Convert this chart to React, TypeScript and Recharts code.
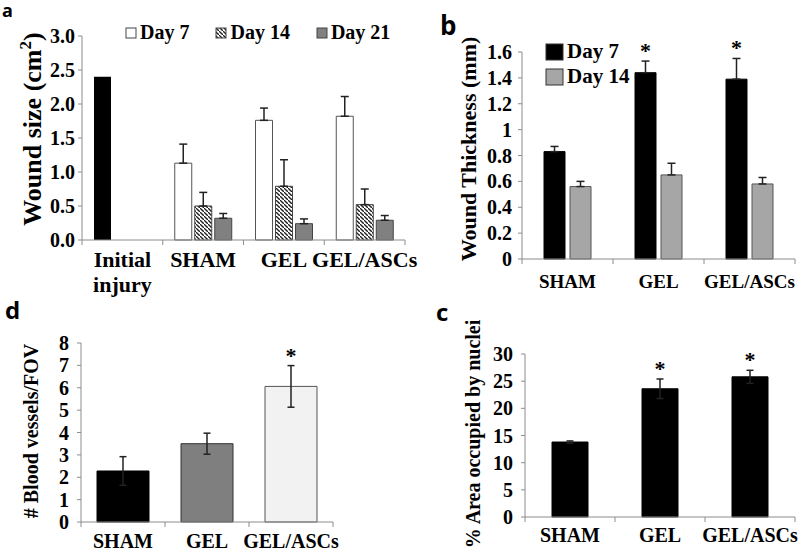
import { BarChart, Bar, XAxis, YAxis, ErrorBar, Cell, Legend, LabelList } from "recharts";

const SERIF = '"Liberation Serif", "Times New Roman", serif';
const SANS = '"Open Sans", Arial, sans-serif';
const AXIS = "#8c8c8c";
const ERR = "#222";

// a: wound size (cm2)
const sizeGroups = ["Initial\ninjury", "SHAM", "GEL", "GEL/ASCs"];
const sizeSeries = ["Day 7", "Day 14", "Day 21"];
const initialSize = [2.4, null, null, null];
const day7Size = [null, 1.13, 1.76, 1.82];
const day7SizeErr = [null, 0.28, 0.18, 0.29];
const day14Size = [null, 0.5, 0.79, 0.52];
const day14SizeErr = [null, 0.2, 0.39, 0.23];
const day21Size = [null, 0.32, 0.24, 0.29];
const day21SizeErr = [null, 0.07, 0.07, 0.07];
const sizeTicks = [0, 0.5, 1, 1.5, 2, 2.5, 3];

// b: wound thickness (mm)
const groups = ["SHAM", "GEL", "GEL/ASCs"];
const thickSeries = ["Day 7", "Day 14"];
const thickDay7 = [0.83, 1.44, 1.39];
const thickDay7Err = [0.04, 0.09, 0.16];
const thickDay14 = [0.56, 0.65, 0.58];
const thickDay14Err = [0.04, 0.09, 0.05];
const thickSig = [false, true, true];
const thickTicks = [0, 0.2, 0.4, 0.6, 0.8, 1, 1.2, 1.4, 1.6];

// d: blood vessels per FOV
const vessels = [2.28, 3.5, 6.06];
const vesselsErr = [0.64, 0.47, 0.93];
const vesselsSig = [false, false, true];
const vesselFill = ["#000000", "#7f7f7f", "#f2f2f2"];
const vesselStroke = ["#000000", "#333333", "#555555"];
const vesselTicks = [0, 1, 2, 3, 4, 5, 6, 7, 8];

// c: % area occupied by nuclei
const nuclei = [13.8, 23.6, 25.8];
const nucleiErr = [0.2, 1.8, 1.2];
const nucleiSig = [false, true, true];
const nucleiTicks = [0, 5, 10, 15, 20, 25, 30];

const sizeData = sizeGroups.map((g, i) => ({
  group: g,
  initial: initialSize[i],
  day7: day7Size[i],
  day7Err: day7SizeErr[i] == null ? null : [0, day7SizeErr[i]],
  day14: day14Size[i],
  day14Err: day14SizeErr[i] == null ? null : [0, day14SizeErr[i]],
  day21: day21Size[i],
  day21Err: day21SizeErr[i] == null ? null : [0, day21SizeErr[i]],
}));

const thickData = groups.map((g, i) => ({
  group: g,
  day7: thickDay7[i],
  day7Err: [0, thickDay7Err[i]],
  day14: thickDay14[i],
  day14Err: [0, thickDay14Err[i]],
}));

const vesselData = groups.map((g, i) => ({ group: g, value: vessels[i], err: vesselsErr[i] }));
const nucleiData = groups.map((g, i) => ({ group: g, value: nuclei[i], err: nucleiErr[i] }));

const tickStyle = (size: number) => ({
  fill: "#000",
  fontSize: size,
  fontWeight: 700,
  fontFamily: SERIF,
});

function GroupTick(props: any) {
  const { x, payload, index, band, axisY, baseY, fontSize, lineGap, count } = props;
  const lines = String(payload.value).split("\n");
  return (
    <g>
      <line x1={x - band / 2} x2={x - band / 2} y1={axisY} y2={axisY + 5} stroke={AXIS} />
      {index === count - 1 && (
        <line x1={x + band / 2} x2={x + band / 2} y1={axisY} y2={axisY + 5} stroke={AXIS} />
      )}
      {lines.map((l, i) => (
        <text
          key={i}
          x={x}
          y={baseY + i * lineGap}
          textAnchor="middle"
          fontFamily={SERIF}
          fontWeight={700}
          fontSize={fontSize}
          fill="#000"
        >
          {l}
        </text>
      ))}
    </g>
  );
}

// rotated axis title
function title(text: any, x: number, cy: number, size: number) {
  return () => (
    <text
      x={x}
      y={cy}
      transform={`rotate(-90, ${x}, ${cy})`}
      textAnchor="middle"
      fontFamily={SERIF}
      fontWeight={700}
      fontSize={size}
      fill="#000"
    >
      {text}
    </text>
  );
}

// asterisk above the error bar of significant groups
function star(sig: boolean[], errs: number[], pxPerUnit: number) {
  return (props: any) => {
    const vb = props.viewBox || {};
    const x = props.x ?? vb.x;
    const y = props.y ?? vb.y;
    const w = props.width ?? vb.width;
    const i = props.index;
    if (!sig[i]) return null;
    return (
      <text
        x={x + w / 2}
        y={y - errs[i] * pxPerUnit - 3}
        textAnchor="middle"
        fontFamily={SERIF}
        fontWeight={700}
        fontSize={22}
        fill="#000"
      >
        *
      </text>
    );
  };
}

const byOrder = (order: string[]) => (items: any[]) =>
  items
    .filter((p: any) => order.includes(p.value))
    .sort((a: any, b: any) => order.indexOf(a.value) - order.indexOf(b.value));

function LegendA(props: any) {
  const items = byOrder(sizeSeries)(props.payload || []);
  return (
    <div style={{ display: "flex", alignItems: "center", fontFamily: SERIF, fontWeight: 700, fontSize: 20 }}>
      {items.map((p: any) => (
        <div key={p.value} style={{ display: "flex", alignItems: "center", marginRight: 26 }}>
          <svg width={12} height={12} style={{ marginRight: 3 }}>
            <rect x={1} y={1} width={10} height={10} fill={p.payload?.fill ?? p.color} stroke="#444" />
          </svg>
          <span>{p.value}</span>
        </div>
      ))}
    </div>
  );
}

function LegendB(props: any) {
  const items = byOrder(thickSeries)(props.payload || []);
  return (
    <div style={{ fontFamily: SERIF, fontWeight: 700, fontSize: 21, lineHeight: "25px" }}>
      {items.map((p: any) => (
        <div key={p.value} style={{ display: "flex", alignItems: "center" }}>
          <svg width={19} height={18} style={{ marginRight: 3 }}>
            <rect x={1} y={1} width={17} height={16} fill={p.payload?.fill ?? p.color} stroke="#333" />
          </svg>
          <span>{p.value}</span>
        </div>
      ))}
    </div>
  );
}

function PanelLetter({ x, y, text, size }: any) {
  return (
    <div
      style={{
        position: "absolute",
        left: x,
        top: y,
        fontFamily: SANS,
        fontWeight: 700,
        fontSize: size,
        lineHeight: 1.2,
        color: "#000",
      }}
    >
      {text}
    </div>
  );
}

export default function App() {
  return (
    <div style={{ position: "absolute", left: 0, top: 0, width: 800, height: 556, background: "#fff", overflow: "hidden" }}>
      {/* a */}
      <div style={{ position: "absolute", left: 0, top: 0 }}>
        <BarChart
          width={420}
          height={300}
          data={sizeData}
          margin={{ top: 36, right: 15, bottom: 0, left: 0 }}
          barSize={17}
          barGap={3}
        >
          <defs>
            <pattern id="hatchA" patternUnits="userSpaceOnUse" width={4} height={4}>
              <rect width={4} height={4} fill="#fff" />
              <path d="M-1,-1 l2,2 M0,0 l4,4 M3,3 l2,2" stroke="#222" strokeWidth={1.4} />
            </pattern>
          </defs>
          <XAxis
            dataKey="group"
            height={60}
            stroke={AXIS}
            tickLine={false}
            interval={0}
            tick={<GroupTick band={80.75} axisY={240} baseY={267} fontSize={22} lineGap={25} count={4} />}
          />
          <YAxis
            width={82}
            domain={[0, 3]}
            ticks={sizeTicks}
            interval={0}
            tickFormatter={(v: number) => v.toFixed(1)}
            stroke={AXIS}
            tickSize={4}
            tickMargin={3}
            tick={tickStyle(20)}
            label={title(
              <>
                Wound size (cm
                <tspan dy={-10} fontSize={17}>2</tspan>
                <tspan dy={10}>)</tspan>
              </>,
              41,
              129,
              26
            )}
          />
          <Legend
            layout="vertical"
            align="center"
            verticalAlign="middle"
            width={300}
            wrapperStyle={{ top: 21, left: 125 }}
            content={<LegendA />}
          />
          <Bar dataKey="initial" stackId="d7" fill="#000" legendType="none" isAnimationActive={false} />
          <Bar dataKey="day7" name="Day 7" stackId="d7" fill="#fff" stroke="#555" isAnimationActive={false}>
            <ErrorBar dataKey="day7Err" width={4} stroke={ERR} strokeWidth={1.5} direction="y" />
          </Bar>
          <Bar dataKey="day14" name="Day 14" fill="url(#hatchA)" stroke="#444" isAnimationActive={false}>
            <ErrorBar dataKey="day14Err" width={4} stroke={ERR} strokeWidth={1.5} direction="y" />
          </Bar>
          <Bar dataKey="day21" name="Day 21" fill="#808080" stroke="#444" isAnimationActive={false}>
            <ErrorBar dataKey="day21Err" width={4} stroke={ERR} strokeWidth={1.5} direction="y" />
          </Bar>
        </BarChart>
      </div>

      {/* b */}
      <div style={{ position: "absolute", left: 420, top: 0 }}>
        <BarChart
          width={380}
          height={300}
          data={thickData}
          margin={{ top: 52, right: 5, bottom: 0, left: 0 }}
          barSize={21}
          barGap={5}
        >
          <XAxis
            dataKey="group"
            height={41}
            stroke={AXIS}
            tickLine={false}
            interval={0}
            tick={<GroupTick band={91} axisY={259} baseY={288} fontSize={19} lineGap={20} count={3} />}
          />
          <YAxis
            width={102}
            domain={[0, 1.6]}
            ticks={thickTicks}
            interval={0}
            tickFormatter={(v: number) => String(Math.round(v * 10) / 10)}
            stroke={AXIS}
            tickSize={4}
            tickMargin={6}
            tick={tickStyle(20)}
            label={title("Wound Thickness (mm)", 56, 149, 22)}
          />
          <Legend
            layout="vertical"
            align="center"
            verticalAlign="middle"
            width={120}
            wrapperStyle={{ top: 39, left: 125 }}
            content={<LegendB />}
          />
          <Bar dataKey="day7" name="Day 7" fill="#000" stroke="#000" isAnimationActive={false}>
            <ErrorBar dataKey="day7Err" width={4} stroke={ERR} strokeWidth={1.5} direction="y" />
            <LabelList dataKey="day7" content={star(thickSig, thickDay7Err, 129.4)} />
          </Bar>
          <Bar dataKey="day14" name="Day 14" fill="#a6a6a6" stroke="#555" isAnimationActive={false}>
            <ErrorBar dataKey="day14Err" width={4} stroke={ERR} strokeWidth={1.5} direction="y" />
          </Bar>
        </BarChart>
      </div>

      {/* d */}
      <div style={{ position: "absolute", left: 0, top: 300 }}>
        <BarChart
          width={400}
          height={256}
          data={vesselData}
          margin={{ top: 43, right: 67, bottom: 0, left: 0 }}
          barSize={52}
        >
          <XAxis
            dataKey="group"
            height={34}
            stroke={AXIS}
            tickLine={false}
            interval={0}
            tick={<GroupTick band={84} axisY={222} baseY={248} fontSize={20} lineGap={20} count={3} />}
          />
          <YAxis
            width={81}
            domain={[0, 8]}
            ticks={vesselTicks}
            interval={0}
            stroke={AXIS}
            tickSize={4}
            tickMargin={8}
            tick={tickStyle(20)}
            label={title("# Blood vessels/FOV", 38, 131, 20)}
          />
          <Bar dataKey="value" isAnimationActive={false}>
            {vesselData.map((d, i) => (
              <Cell key={d.group} fill={vesselFill[i]} stroke={vesselStroke[i]} />
            ))}
            <ErrorBar dataKey="err" width={3.5} stroke={ERR} strokeWidth={1.5} direction="y" />
            <LabelList dataKey="value" content={star(vesselsSig, vesselsErr, 22.3)} />
          </Bar>
        </BarChart>
      </div>

      {/* c */}
      <div style={{ position: "absolute", left: 400, top: 300 }}>
        <BarChart
          width={400}
          height={256}
          data={nucleiData}
          margin={{ top: 54, right: 5, bottom: 0, left: 0 }}
          barSize={36}
        >
          <XAxis
            dataKey="group"
            height={39}
            stroke={AXIS}
            tickLine={false}
            interval={0}
            tick={<GroupTick band={90} axisY={217} baseY={242} fontSize={20} lineGap={20} count={3} />}
          />
          <YAxis
            width={125}
            domain={[0, 30]}
            ticks={nucleiTicks}
            interval={0}
            stroke={AXIS}
            tickSize={4}
            tickMargin={8}
            tick={tickStyle(20)}
            label={title("% Area occupied by nuclei", 80, 134, 20)}
          />
          <Bar dataKey="value" fill="#000" stroke="#000" isAnimationActive={false}>
            <ErrorBar dataKey="err" width={3.5} stroke={ERR} strokeWidth={1.5} direction="y" />
            <LabelList dataKey="value" content={star(nucleiSig, nucleiErr, 5.43)} />
          </Bar>
        </BarChart>
      </div>

      <PanelLetter x={2} y={0} text="a" size={18} />
      <PanelLetter x={440} y={10} text="b" size={26} />
      <PanelLetter x={5} y={296} text="d" size={24} />
      <PanelLetter x={436} y={298} text="c" size={24} />
    </div>
  );
}
